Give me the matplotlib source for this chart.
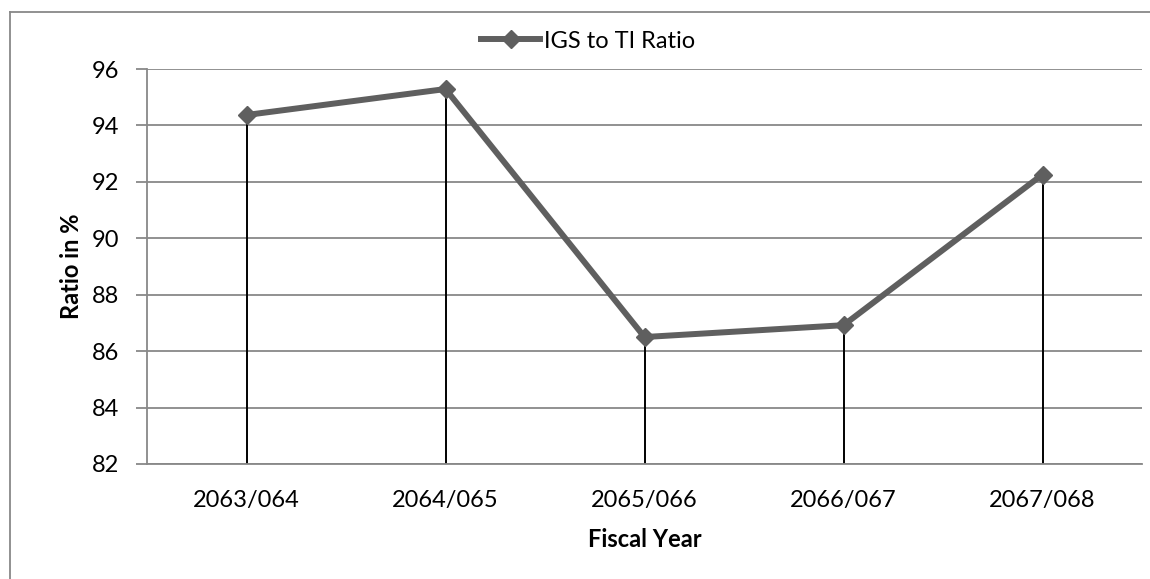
import matplotlib.pyplot as plt
from matplotlib.lines import Line2D

# datos del grafico
years = ["2063/064", "2064/065", "2065/066", "2066/067", "2067/068"]
ratio = [94.37, 95.29, 86.5, 86.92, 92.26]
yticks = [82, 84, 86, 88, 90, 92, 94, 96]

plt.rcParams['font.family'] = ['Lato', 'DejaVu Sans']

fig = plt.figure(figsize=(11.5, 5.79), dpi=100)
ax = fig.add_axes([147 / 1150, 1 - 464 / 579, (1142 - 147) / 1150, (464 - 69) / 579])

x = list(range(len(years)))
gris = "#888888"

# lineas de caida hasta el eje
ax.vlines(x, 82, ratio, color="black", lw=1.4, zorder=2)
ax.plot(x, ratio, color="#5f5f5f", lw=4.3, marker="D", markersize=9,
        label="IGS to TI Ratio", zorder=3)

ax.set_xlim(-0.5, len(years) - 0.5)
ax.set_ylim(82, 96)
ax.set_yticks(yticks)
ax.set_xticks(x)
ax.set_xticklabels(years)
ax.grid(axis="y", color=gris, lw=1.3)
ax.set_axisbelow(True)
ax.tick_params(axis="y", length=8, color=gris, width=1.3, labelsize=17, pad=12)
ax.tick_params(axis="x", length=0, labelsize=17, pad=19)
for s in ["top", "right"]:
    ax.spines[s].set_visible(False)
for s in ["left", "bottom"]:
    ax.spines[s].set_color(gris)
    ax.spines[s].set_linewidth(1.3)

ax.set_xlabel("Fiscal Year", fontsize=17, fontweight="bold", labelpad=12)
ax.set_ylabel("Ratio in %", fontsize=17, fontweight="bold", labelpad=6)

fig.legend(loc="center", bbox_to_anchor=(588 / 1150, 1 - 41 / 579), frameon=False,
           fontsize=17, handlelength=2.5, handletextpad=0.15)

# borde del area del grafico
xb = 10 / 1150
yb = 1 - 12 / 579
fig.add_artist(Line2D([xb, xb], [0, yb], transform=fig.transFigure, color=gris, lw=1.3))
fig.add_artist(Line2D([xb, 1], [yb, yb], transform=fig.transFigure, color=gris, lw=1.3))

fig.savefig("out.png", dpi=100)
